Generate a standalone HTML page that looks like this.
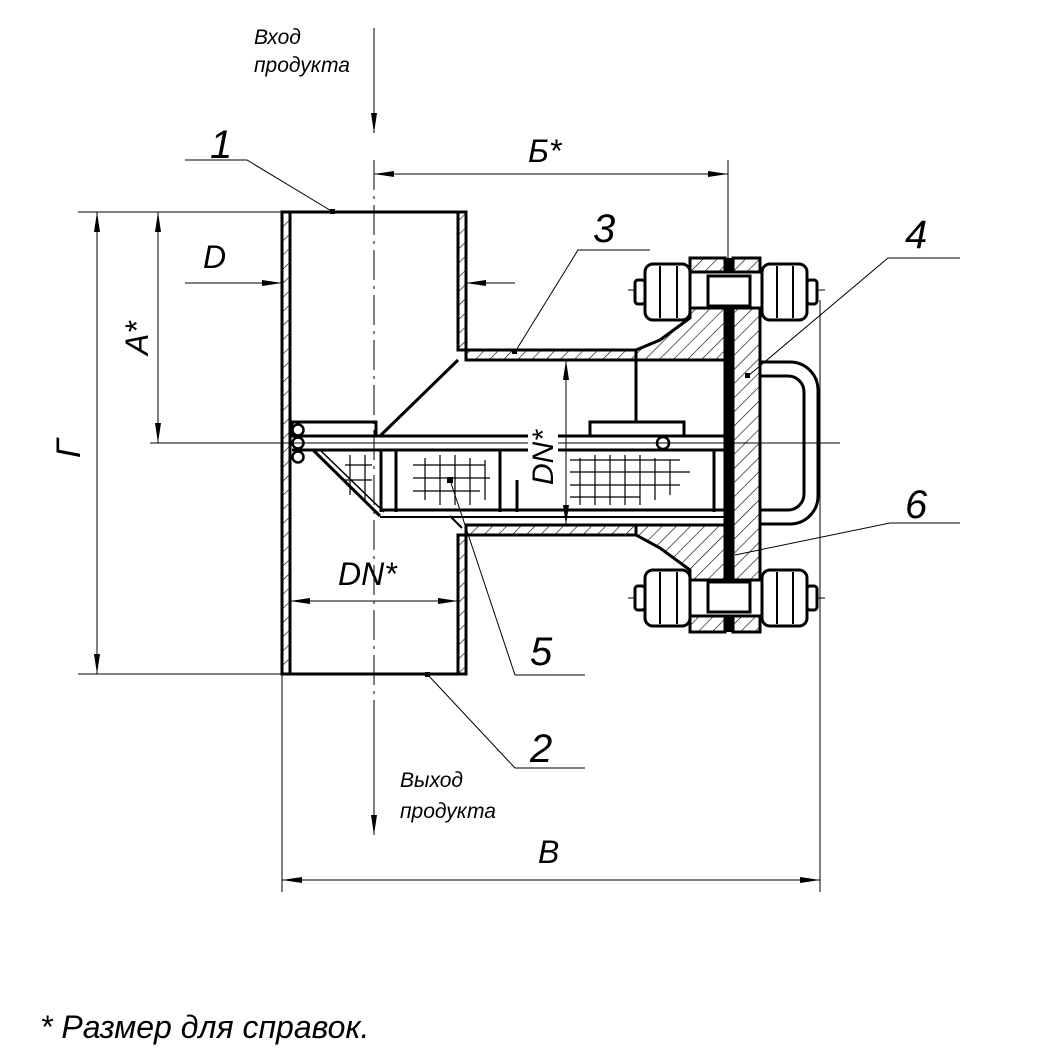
<!DOCTYPE html>
<html><head><meta charset="utf-8"><style>
html,body{margin:0;padding:0;background:#fff}
svg{display:block}
text{font-family:"Liberation Sans","DejaVu Sans",sans-serif;font-style:italic;fill:#000}
</style></head><body>
<svg width="1057" height="1057" viewBox="0 0 1057 1057" xmlns="http://www.w3.org/2000/svg">
<defs>
<pattern id="h" width="10" height="10" patternUnits="userSpaceOnUse" patternTransform="rotate(45)">
<line x1="0" y1="0" x2="0" y2="10" stroke="#000" stroke-width="1.2"/>
</pattern>
<marker id="a" viewBox="0 0 20 6" refX="20" refY="3" markerWidth="20" markerHeight="6" markerUnits="userSpaceOnUse" orient="auto">
<path d="M0,0 L20,3 L0,6 Z" fill="#000"/>
</marker>
</defs>
<g fill="none" stroke="#000">
<line x1="374" y1="160" x2="374" y2="700" stroke-width="1" stroke-dasharray="30,6,3,6"/>
<line x1="150" y1="443" x2="840" y2="443" stroke-width="1"/>
<line x1="628" y1="290" x2="825" y2="290" stroke-width="1" stroke-dasharray="30,6,3,6"/>
<line x1="628" y1="598" x2="825" y2="598" stroke-width="1" stroke-dasharray="30,6,3,6"/>
<line x1="728" y1="160" x2="728" y2="260" stroke-width="1"/>
<rect x="282" y="212" width="8" height="462" fill="url(#h)" stroke-width="3"/>
<rect x="458" y="212" width="8" height="138" fill="url(#h)" stroke-width="3"/>
<rect x="458" y="535" width="8" height="139" fill="url(#h)" stroke-width="3"/>
<line x1="282" y1="212" x2="466" y2="212" stroke-width="3"/>
<line x1="282" y1="674" x2="466" y2="674" stroke-width="3"/>
<rect x="466" y="350" width="170" height="10" fill="url(#h)" stroke-width="3"/>
<rect x="466" y="525" width="170" height="10" fill="url(#h)" stroke-width="3"/>
<path d="M636,350 L660,340 L690,318 L690,258 L725,258 L725,632 L690,632 L690,570 L660,548 L636,535 L636,525 L725,525 L725,360 L636,360 Z" fill="url(#h)" stroke-width="3"/>
<rect x="733" y="258" width="27" height="374" fill="url(#h)" stroke-width="3"/>
<line x1="729" y1="258" x2="729" y2="632" stroke-width="5"/>
<g stroke-width="3" fill="#fff">
<rect x="690" y="272" width="72" height="36"/>
<rect x="708" y="276" width="42" height="30"/>
<rect x="690" y="580" width="72" height="36"/>
<rect x="708" y="582" width="42" height="30"/>
<rect x="645" y="264" width="45" height="56" rx="8"/>
<rect x="762" y="264" width="45" height="56" rx="8"/>
<rect x="645" y="570" width="45" height="56" rx="8"/>
<rect x="762" y="570" width="45" height="56" rx="8"/>
<rect x="635" y="280" width="10" height="24" rx="3"/>
<rect x="807" y="280" width="10" height="24" rx="3"/>
<rect x="635" y="586" width="10" height="24" rx="3"/>
<rect x="807" y="586" width="10" height="24" rx="3"/>
</g>
<g stroke-width="2">
<line x1="660" y1="266" x2="660" y2="318"/><line x1="677" y1="266" x2="677" y2="318"/>
<line x1="777" y1="266" x2="777" y2="318"/><line x1="793" y1="266" x2="793" y2="318"/>
<line x1="660" y1="572" x2="660" y2="624"/><line x1="677" y1="572" x2="677" y2="624"/>
<line x1="777" y1="572" x2="777" y2="624"/><line x1="793" y1="572" x2="793" y2="624"/>
</g>
<path d="M760,362 L790,362 A28,28 0 0 1 818,390 L818,496 A28,28 0 0 1 790,524 L760,524" stroke-width="3"/>
<path d="M760,376 L788,376 A16,16 0 0 1 804,392 L804,494 A16,16 0 0 1 788,510 L760,510" stroke-width="3"/>
<line x1="458" y1="360" x2="380" y2="436" stroke-width="3"/>
<line x1="313" y1="450" x2="380" y2="516" stroke-width="3"/>
<line x1="320" y1="450" x2="384" y2="512" stroke-width="1.5"/>
<line x1="450" y1="516" x2="462" y2="528" stroke-width="2"/>
<line x1="292" y1="436" x2="728" y2="436" stroke-width="3"/>
<line x1="292" y1="450" x2="728" y2="450" stroke-width="3"/>
<line x1="380" y1="510" x2="728" y2="510" stroke-width="3"/>
<line x1="380" y1="517" x2="728" y2="517" stroke-width="2"/>
<rect x="292" y="422" width="84" height="14" stroke-width="3"/>
<g stroke-width="3"><line x1="381" y1="450" x2="381" y2="512"/><line x1="396" y1="450" x2="396" y2="512"/><line x1="500" y1="450" x2="500" y2="512"/><line x1="517" y1="480" x2="517" y2="512"/><line x1="714" y1="450" x2="714" y2="512"/></g>
<circle cx="298" cy="430" r="5.5" stroke-width="2.5"/><circle cx="298" cy="443" r="5.5" stroke-width="2.5"/><circle cx="298" cy="457" r="5.5" stroke-width="2.5"/>
<circle cx="663" cy="443" r="6" stroke-width="2.5"/>
<line x1="636" y1="360" x2="636" y2="422" stroke-width="3"/>
<rect x="590" y="422" width="94" height="14" stroke-width="3"/>
<g stroke-width="1.2">
<path d="M413,465 H485 M413,478 H490 M413,491 H480 M425,458 V500 M440,455 V505 M455,455 V505 M470,458 V505 M485,460 V500"/>
<path d="M570,460 H680 M570,472 H690 M570,485 H680 M570,497 H640 M580,458 V505 M595,455 V505 M610,455 V505 M625,455 V505 M640,455 V505 M655,458 V500 M670,460 V495"/>
<path d="M345,465 H372 M345,480 H372 M350,455 V495 M365,455 V500"/>
</g>
<g stroke-width="1">
<line x1="374" y1="28" x2="374" y2="133" marker-end="url(#a)"/>
<line x1="374" y1="700" x2="374" y2="835" marker-end="url(#a)"/>
<line x1="728" y1="174" x2="374" y2="174" marker-end="url(#a)"/>
<line x1="374" y1="174" x2="728" y2="174" marker-end="url(#a)"/>
<line x1="185" y1="283" x2="282" y2="283" marker-end="url(#a)"/>
<line x1="515" y1="283" x2="466" y2="283" marker-end="url(#a)"/>
<line x1="78" y1="212" x2="282" y2="212"/>
<line x1="78" y1="674" x2="282" y2="674"/>
<line x1="97" y1="443" x2="97" y2="212" marker-end="url(#a)"/>
<line x1="97" y1="443" x2="97" y2="674" marker-end="url(#a)"/>
<line x1="158" y1="330" x2="158" y2="212" marker-end="url(#a)"/>
<line x1="158" y1="330" x2="158" y2="443" marker-end="url(#a)"/>
<line x1="566" y1="440" x2="566" y2="360" marker-end="url(#a)"/>
<line x1="566" y1="440" x2="566" y2="525" marker-end="url(#a)"/>
<line x1="374" y1="601" x2="290" y2="601" marker-end="url(#a)"/>
<line x1="374" y1="601" x2="458" y2="601" marker-end="url(#a)"/>
<line x1="282" y1="674" x2="282" y2="892"/>
<line x1="820" y1="300" x2="820" y2="892"/>
<line x1="550" y1="880" x2="282" y2="880" marker-end="url(#a)"/>
<line x1="550" y1="880" x2="820" y2="880" marker-end="url(#a)"/>
<polyline points="333,212 247,160 185,160"/>
<polyline points="515,352 578,250 650,250"/>
<polyline points="748,376 888,258 960,258"/>
<polyline points="735,555 890,523 960,523"/>
<polyline points="450,480 515,675 585,675"/>
<polyline points="428,675 515,768 585,768"/>
</g>
<g fill="#000" stroke="none">
<rect x="330" y="209" width="5" height="5"/><rect x="512" y="349" width="5" height="5"/>
<rect x="745" y="373" width="5" height="5"/><rect x="447" y="477" width="6" height="6"/>
<rect x="425" y="672" width="5" height="5"/>
<circle cx="729" cy="315" r="3"/><circle cx="729" cy="572" r="3"/>
</g>
</g>
<text x="254" y="44" font-size="21">Вход</text>
<text x="254" y="72" font-size="21">продукта</text>
<text x="400" y="787" font-size="21">Выход</text>
<text x="400" y="818" font-size="21">продукта</text>
<text x="210" y="158" font-size="40">1</text>
<text x="593" y="242" font-size="40">3</text>
<text x="905" y="248" font-size="40">4</text>
<text x="905" y="518" font-size="40">6</text>
<text x="530" y="665" font-size="40">5</text>
<text x="530" y="762" font-size="40">2</text>
<text x="528" y="162" font-size="32">Б*</text>
<text x="203" y="268" font-size="32">D</text>
<text x="338" y="585" font-size="32">DN*</text>
<text x="538" y="863" font-size="32">В</text>
<text font-size="32" transform="translate(148,355) rotate(-90)">A*</text>
<text font-size="34" transform="translate(80,458) rotate(-90)">Г</text>
<rect x="528" y="410" width="30" height="76" fill="#fff"/>
<text font-size="30" transform="translate(553,485) rotate(-90)">DN*</text>
<text x="40" y="1038" font-size="32">* Размер для справок.</text>
</svg>
</body></html>
